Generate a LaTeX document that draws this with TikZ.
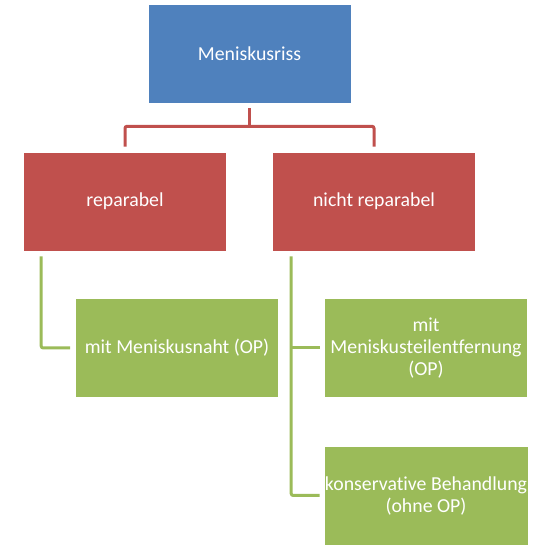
\documentclass[tikz,border=0pt]{standalone}
\usepackage{fontspec}
\setmainfont[Ligatures={NoCommon}]{Carlito}
\usetikzlibrary{calc}
\definecolor{cblue}{HTML}{4F81BD}
\definecolor{cred}{HTML}{C0504D}
\definecolor{cgreen}{HTML}{9BBB59}
\begin{document}
\begin{tikzpicture}[x=1pt,y=1pt,
  box/.style={rectangle, draw=white, line width=0.6pt, minimum width=203pt, minimum height=99pt, inner sep=1pt,
    text=white, align=center, font=\fontsize{19.8}{22}\selectfont},
  bbox/.style={box, fill=cblue},
  rbox/.style={box, fill=cred},
  gbox/.style={box, fill=cgreen},
  rline/.style={draw=cred, line width=3pt, rounded corners=2pt},
  gline/.style={draw=cgreen, line width=3pt, rounded corners=2pt}]
\useasboundingbox (0,0) rectangle (550,550);
\node[bbox] (top) at (249.5,496.5) {Meniskusriss};
\node[rbox] (r1) at (125,348.5) {reparabel};
\node[rbox] (r2) at (374,348.5) {nicht reparabel};
\node[gbox] (g1) at (177,202) {mit Meniskusnaht (OP)};
\node[gbox] (g2) at (426,202) {mit\\Meniskusteilentfernung\\(OP)};
\node[gbox] (g3) at (426,54.5) {konservative Behandlung\\(ohne OP)};
\coordinate (j) at ($(top.south)+(0,-23)$);
\draw[rline] ([yshift=-5pt]top.south) -- (j);
\draw[rline] ([yshift=5pt]r1.north) |- (j) -| ([yshift=5pt]r2.north);
\draw[gline] ([xshift=18pt,yshift=-5pt]r1.south west) |- ([xshift=-5pt]g1.west);
\coordinate (v) at ([xshift=19pt,yshift=-5pt]r2.south west);
\draw[gline] (v) |- ([xshift=-4pt]g3.west);
\draw[gline] (v |- g2.west) -- ([xshift=-4pt]g2.west);
\end{tikzpicture}
\end{document}
